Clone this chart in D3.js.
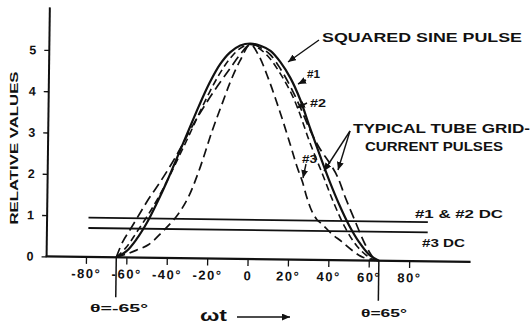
<!DOCTYPE html>
<html><head><meta charset="utf-8">
<script src="https://cdn.jsdelivr.net/npm/d3@7"></script>
<style>
html,body{margin:0;padding:0;background:#fff;}
svg{display:block;}
text{font-family:"Liberation Sans","DejaVu Sans",Arial,sans-serif;font-weight:bold;fill:#111;}
</style></head>
<body>
<svg id="c" width="531" height="323"></svg>
<script>
// ---- data (degrees of wt, relative value) ----
const xTicks = [-80,-60,-40,-20,0,20,40,60,80];
const xTickLabels = ["-80°","-60°","-40°","-20°","0","20°","40°","60°","80°"];
const yTicks = [0,1,2,3,4,5];
const yTickLabels = ["0","1","2","3","4","5"];

const sinePulse = [[-65,0],[-60,0.15],[-55,0.45],[-50,0.85],[-45,1.35],[-40,1.9],[-35,2.5],[-30,3.1],[-25,3.7],[-20,4.25],[-15,4.7],[-10,5.0],[-5,5.17],[0,5.22],[5,5.17],[10,5.05],[15,4.78],[20,4.4],[25,3.88],[30,3.2],[35,2.55],[40,1.92],[45,1.35],[50,0.85],[55,0.45],[60,0.15],[65,0]];
const pulse1 = [[-65,0],[-62,0.37],[-58,0.7],[-53.5,1.08],[-49,1.45],[-44,1.82],[-38,2.3],[-33,2.75],[-28,3.22],[-22,3.72],[-16,4.18],[-10,4.6],[-5,4.95],[0,5.2],[5,5.12],[10,4.95],[15,4.62],[20,4.2],[25,3.7],[30,3.15],[35,2.7],[40,2.35],[44,2.02],[48,1.52],[53,0.95],[58,0.4],[63,0]];
const pulse2 = [[-65,0],[-60,0.25],[-55,0.62],[-50,1.0],[-45,1.42],[-40,1.9],[-35,2.42],[-30,2.95],[-25,3.5],[-20,4.02],[-15,4.48],[-10,4.85],[-5,5.1],[0,5.2],[5,5.08],[10,4.85],[15,4.5],[20,4.08],[24,3.65],[30,2.85],[36.6,2.07],[42,1.42],[48,0.8],[54,0.35],[60,0.08],[63,0]];
const pulse3 = [[-65,0],[-60,0.08],[-55,0.18],[-49,0.32],[-42.6,0.62],[-35.6,1.0],[-30,1.45],[-25,2.07],[-18.3,3.1],[-13.4,3.78],[-9.4,4.32],[-5,4.8],[0,5.2],[4,4.95],[9.4,4.34],[15.3,3.54],[20.3,2.8],[23.8,2.26],[26.7,1.88],[29,1.5],[31.5,1.18],[34,0.98],[37,0.85],[41.6,0.63],[46.5,0.45],[51.5,0.25],[57,0.08],[65,0]];
const dc12 = [[-79,0.95],[89,0.95]];
const dc3 = [[-79,0.7],[89,0.7]];
const thetaMarks = [-65,65];

// ---- drawing ----
const svg = d3.select("#c");
const x = d3.scaleLinear().domain([-80,80]).range([87.4,410.6]);
const y = d3.scaleLinear().domain([0,5]).range([259,52.6]);

const defs = svg.append("defs");
defs.append("marker").attr("id","ah").attr("markerUnits","userSpaceOnUse")
  .attr("markerWidth",9).attr("markerHeight",7).attr("refX",8).attr("refY",3.5)
  .attr("orient","auto")
  .append("path").attr("d","M0,0 L8,3.5 L0,7 Z").attr("fill","#111");

const g = svg.append("g").attr("transform","rotate(0.75,250,150)");

// axes lines
g.append("line").attr("x1",48).attr("x2",48).attr("y1",10).attr("y2",y(0))
  .attr("stroke","#111").attr("stroke-width",2);
g.append("line").attr("x1",47).attr("x2",472).attr("y1",y(0)).attr("y2",y(0))
  .attr("stroke","#111").attr("stroke-width",2.2);

const xa = g.append("g").attr("transform",`translate(0,${y(0)})`)
  .call(d3.axisBottom(x).tickValues(xTicks).tickSize(7).tickPadding(5)
    .tickFormat((d,i)=>xTickLabels[i]));
xa.select(".domain").remove();
xa.selectAll("line").attr("stroke","#111").attr("stroke-width",1.3);
xa.selectAll("text").style("font-size","13px").style("letter-spacing","1.5px").style("font-weight","bold");

const ya = g.append("g").attr("transform","translate(48,0)")
  .call(d3.axisLeft(y).tickValues(yTicks).tickSize(5).tickPadding(8)
    .tickFormat((d,i)=>yTickLabels[i]));
ya.select(".domain").remove();
ya.selectAll("line").attr("stroke","#111").attr("stroke-width",1.3);
ya.selectAll("text").style("font-size","12.5px").style("font-weight","bold");

// DC lines
const lineGen = d3.line().x(d=>x(d[0])).y(d=>y(d[1]));
[dc12,dc3].forEach(d=>g.append("path").attr("d",lineGen(d)).attr("fill","none")
  .attr("stroke","#111").attr("stroke-width",1.8));

// pulses
const curve = d3.line().x(d=>x(d[0])).y(d=>y(d[1])).curve(d3.curveCatmullRom.alpha(0.5));
g.append("path").attr("d",curve(sinePulse)).attr("fill","none").attr("stroke","#111").attr("stroke-width",2.2);
g.append("path").attr("d",curve(pulse1)).attr("fill","none").attr("stroke","#111").attr("stroke-width",1.7).attr("stroke-dasharray","10,5");
g.append("path").attr("d",curve(pulse2)).attr("fill","none").attr("stroke","#111").attr("stroke-width",1.6).attr("stroke-dasharray","7,4");
g.append("path").attr("d",curve(pulse3)).attr("fill","none").attr("stroke","#111").attr("stroke-width",1.7).attr("stroke-dasharray","9,5");

// theta marker lines
thetaMarks.forEach(t=>g.append("line").attr("x1",x(t)).attr("x2",x(t)).attr("y1",y(0)).attr("y2",y(0)+40)
  .attr("stroke","#111").attr("stroke-width",1.5));

// ---- annotations (screen coords) ----
function label(txt,x0,base,len,size){
  svg.append("text").attr("x",x0).attr("y",base).attr("textLength",len)
    .attr("lengthAdjust","spacingAndGlyphs").style("font-size",size+"px").text(txt);
}
label("SQUARED SINE PULSE",322,42,200,12.5);
label("TYPICAL TUBE GRID-",353,133,177,12);
label("CURRENT PULSES",365,151,138,12);
label("#1",307,78,13,10);
label("#2",310,107,16,11);
label("#3",302,163,15,11);
label("#1 & #2 DC",415,218,88,11.5);
label("#3 DC",422,247,43,11.5);
label("θ=-65°",90,312,58,11.5);
label("θ=65°",361,317,46,11.5);
label("ωt",200,321,27,16);

svg.append("text").attr("transform","translate(18,148) rotate(-90)")
  .attr("text-anchor","middle").attr("textLength",153).attr("lengthAdjust","spacingAndGlyphs")
  .style("font-size","11.5px").text("RELATIVE VALUES");

const arrows = [[319,40,288,62],[306,80,298,84],[307,103,297,108],[306,164,303,178],[350,131,324,171],[350,131,338,170],[237,317,290,317]];
arrows.forEach(a=>svg.append("line").attr("x1",a[0]).attr("y1",a[1]).attr("x2",a[2]).attr("y2",a[3])
  .attr("stroke","#111").attr("stroke-width",1.4).attr("marker-end","url(#ah)"));
</script>
</body></html>
